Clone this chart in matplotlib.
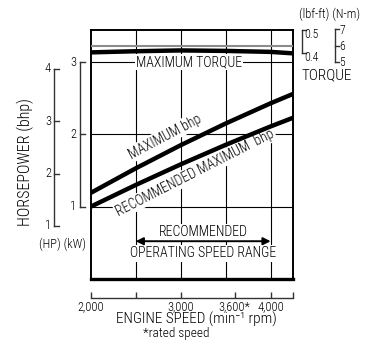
import matplotlib
matplotlib.use("Agg")
import matplotlib.pyplot as plt
from matplotlib.transforms import blended_transform_factory, IdentityTransform, ScaledTranslation

plt.rcParams['font.family'] = ['Roboto Condensed', 'DejaVu Sans']
plt.rcParams['font.weight'] = 'light'

# ---- data -------------------------------------------------------------
rpm = [2000, 2500, 3000, 3500, 4000, 4250]
max_bhp_kw = [1.19, 1.53, 1.85, 2.15, 2.43, 2.56]
rec_bhp_kw = [1.00, 1.30, 1.585, 1.855, 2.11, 2.23]
torque_nm = [5.59, 5.66, 5.71, 5.68, 5.62, 5.53]

grid_rpm = [2500, 3000, 3500, 4000]
speed_ticks = [2000, 2500, 3000, 3600, 4000, 4245]
speed_labels = ['2,000', '', '3,000', '3,600*', '4,000', '']
kw_ticks = [1, 2, 3]
hp_ticks = [1, 2, 3, 4]
nm_ticks = [5, 6, 7]
lbf_ticks = [0.4, 0.5]
range_rpm = [2500, 4000]

# ---- figure -----------------------------------------------------------
W, H = 374, 345
fig = plt.figure(figsize=(W / 100, H / 100), dpi=100)


def rect(x0, y0, x1, y1):
    return [x0 / W, 1 - y1 / H, (x1 - x0) / W, (y1 - y0) / H]


def fx(x):
    return x / W


def fy(y):
    return 1 - y / H


box = rect(90.7, 30, 292.7, 279)
ax = fig.add_axes(box)
ax.set_xlim(2000, 4245)
ax.set_ylim(0, 3.443)
ax.set_xticks([])
ax.set_yticks([])
for s in ('top', 'left', 'right'):
    ax.spines[s].set_linewidth(1.4)
ax.spines['bottom'].set_linewidth(2.4)

# grid
for r in grid_rpm:
    ax.axvline(r, color='k', lw=0.8, zorder=1)
for k in kw_ticks:
    ax.axhline(k, color='k', lw=0.8, zorder=1)

# power curves
ax.plot(rpm, max_bhp_kw, color='k', lw=3.2, solid_capstyle='butt', zorder=5)
ax.plot(rpm, rec_bhp_kw, color='k', lw=3.2, solid_capstyle='butt', zorder=5)

white = dict(facecolor='white', edgecolor='none', pad=1.0)
ax.text(3092, 3.0, 'MAXIMUM TORQUE', ha='center', va='center', fontsize=10,
        bbox=white, zorder=3)
ax.text(2826, 1.97, 'MAXIMUM bhp', ha='center', va='center', fontsize=10,
        rotation=28, rotation_mode='anchor', bbox=white, zorder=3)
ax.text(3160, 1.47, 'RECOMMENDED MAXIMUM  bhp', ha='center', va='center', fontsize=10,
        rotation=27, rotation_mode='anchor', bbox=white, zorder=3)

# recommended operating range
ax.annotate('', xy=(range_rpm[0], 0.5225), xytext=(range_rpm[1], 0.5225),
            arrowprops=dict(arrowstyle='<|-|>', color='k', lw=1.4,
                            mutation_scale=11, shrinkA=0, shrinkB=0), zorder=4)
ax.text(3248, 0.645, 'RECOMMENDED', ha='center', va='center', fontsize=10,
        bbox=white, zorder=3)
ax.text(3248, 0.355, 'OPERATING SPEED RANGE', ha='center', va='center', fontsize=10,
        bbox=white, zorder=3)

# torque (N-m) axis
ax_t = ax.twinx()
ax_t.set_ylim(-8.313, 6.963)
ax_t.axis('off')
ax_t.axhline(6, color='0.55', lw=1.5, zorder=1)
ax_t.plot(rpm, torque_nm, color='k', lw=3.2, solid_capstyle='butt', zorder=5)

# invisible scales for the other units
ax_hp = fig.add_axes(box, frameon=False)
ax_hp.set_ylim(-0.0128, 4.745)
ax_hp.axis('off')
ax_lbf = fig.add_axes(box, frameon=False)
ax_lbf.set_ylim(-0.5826, 0.5)
ax_lbf.axis('off')


def scale_bar(sax, x_px, ticks, tick_len, label_x, ha, dy=0.0, color='0.2', fs=9):
    tr = blended_transform_factory(IdentityTransform(), sax.transData)
    sax.plot([x_px, x_px], [min(ticks), max(ticks)], color=color, lw=1.0,
             transform=tr, clip_on=False)
    off = ScaledTranslation(0, -dy / 100, fig.dpi_scale_trans)
    for t in ticks:
        sax.plot([x_px, x_px + tick_len], [t, t], color=color, lw=1.0,
                 transform=tr, clip_on=False)
        sax.text(label_x, t, '%g' % t, ha=ha, va='center', fontsize=fs,
                 transform=tr + off, clip_on=False)


scale_bar(ax, 80, kw_ticks, 5, 76.5, 'right')
scale_bar(ax_hp, 54.3, hp_ticks, 5, 51, 'right')
scale_bar(ax_t, 335, nm_ticks, 3.5, 339.5, 'left', dy=1.0, fs=8.5)
scale_bar(ax_lbf, 301.5, lbf_ticks, 4, 304.5, 'left', dy=4, fs=8.5)

fig.text(fx(25), fy(162), 'HORSEPOWER (bhp)', rotation=90, ha='center', va='center',
         fontsize=11.5)
fig.text(fx(62.5), fy(244), '(HP) (kW)', ha='center', va='center', fontsize=9)
fig.text(fx(330), fy(14), '(lbf-ft) (N-m)', ha='center', va='center', fontsize=9)
fig.text(fx(327), fy(75.5), 'TORQUE', ha='center', va='center', fontsize=11)

# engine speed axis below the chart
ax_x = fig.add_axes(rect(90.7, 290, 292.7, 297.7), frameon=True)
ax_x.patch.set_visible(False)
for s in ('top', 'left', 'right'):
    ax_x.spines[s].set_visible(False)
ax_x.spines['bottom'].set_linewidth(1.0)
ax_x.spines['bottom'].set_color('0.2')
ax_x.set_xlim(2000, 4245)
ax_x.set_yticks([])
ax_x.set_xticks(speed_ticks)
ax_x.set_xticklabels(speed_labels, fontsize=9)
ax_x.tick_params(axis='x', direction='in', length=4, width=1.0, color='0.2', pad=1.5)

fig.text(fx(196), fy(319), 'ENGINE SPEED (min\u207b\u00b9 rpm)', ha='center', va='center',
         fontsize=11)
fig.text(fx(176), fy(334), '*rated speed', ha='center', va='center', fontsize=9.5)

fig.savefig('out.png', dpi=100)
